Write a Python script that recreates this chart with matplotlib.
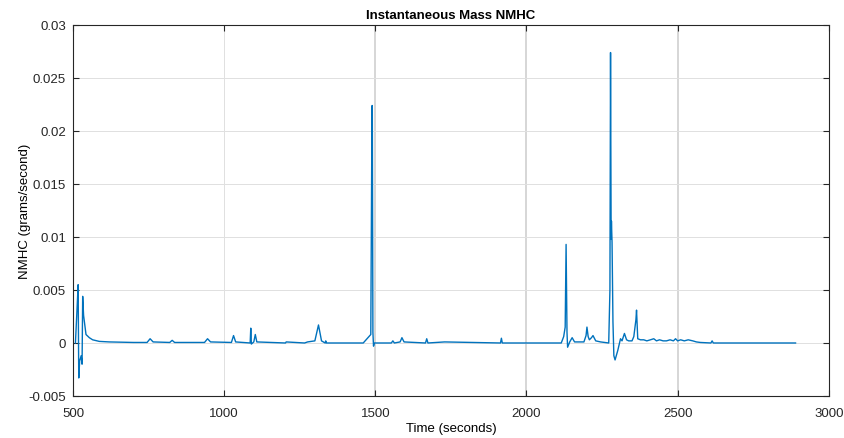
import matplotlib
matplotlib.use('Agg')
import matplotlib.pyplot as plt

# time (s) and instantaneous NMHC mass (g/s)
time_s = [508, 513, 517, 519, 522, 527, 530, 532, 535, 543, 554, 565, 587, 620, 700,
          745, 755, 765, 820, 828, 836, 935, 945, 955, 1024, 1031, 1038,
          1086, 1088, 1090, 1098, 1103, 1108, 1203, 1205, 1266, 1276,
          1300, 1312, 1322, 1334, 1336, 1338, 1460, 1485, 1489, 1490, 1492, 1494, 1497,
          1553, 1558, 1563, 1582, 1588, 1595, 1666, 1670, 1674, 1729, 1914, 1917, 1920,
          2115, 2123, 2128, 2131, 2134, 2136, 2143, 2151, 2159, 2190, 2197, 2200, 2204,
          2208, 2215, 2220, 2229, 2245, 2272, 2276, 2278, 2280, 2281, 2283, 2286, 2289,
          2293, 2302, 2311, 2316, 2324, 2331, 2338, 2349, 2355, 2362, 2364, 2368, 2377,
          2388, 2398, 2410, 2421, 2430, 2440, 2452, 2463, 2475, 2486, 2493, 2500, 2510,
          2522, 2535, 2550, 2562, 2575, 2610, 2614, 2618, 2700, 2890]
nmhc = [0, 0.003, 0.0055, -0.0033, -0.0017, -0.0012, -0.002, 0.0044, 0.0026, 0.0008,
        0.0005, 0.0003, 0.00015, 0.0001, 0.00005,
        0.00005, 0.0004, 0.0001, 0.00005, 0.00025, 0.00005, 0.00005, 0.0004, 0.0001,
        0.00005, 0.0007, 0.0001,
        0, 0.0014, -0.0001, 0.0001, 0.0008, 0.0001, 0, 0.0001, 0, 0.0001,
        0.0002, 0.0017, 0.0002, 0, 0.0002, 0, 0, 0.0008, 0.0224, 0.0224, 0.001, -0.0003, 0,
        0, 0.0002, 0, 0.0001, 0.0005, 0.0001, 0, 0.0004, 0, 0.0001, 0, 0.00045, 0,
        0, 0.0006, 0.0015, 0.0093, 0.001, -0.0004, 0.0001, 0.0005, 0.0001, 0.0001, 0.0007, 0.0015, 0.0006,
        0.0003, 0.0005, 0.0007, 0.0002, 0.0001, 0, 0.005, 0.0274, 0.0098, 0.0115, 0.0095, 0.002, -0.0012,
        -0.0016, -0.0007, 0.0004, 0.0002, 0.0009, 0.0003, 0.0002, 0.0002, 0.0006, 0.0022, 0.0031, 0.0004, 0.0003,
        0.0003, 0.0002, 0.0003, 0.0004, 0.0002, 0.0003, 0.0002, 0.0002, 0.0003, 0.0002, 0.0004, 0.0002, 0.0003,
        0.0002, 0.0003, 0.0002, 0.0001, 0.00005, 0, 0.0002, 0, 0, 0]

x_ticks = [500, 1000, 1500, 2000, 2500, 3000]
y_ticks = [-0.005, 0, 0.005, 0.01, 0.015, 0.02, 0.025, 0.03]
y_labels = ['-0.005', '0', '0.005', '0.01', '0.015', '0.02', '0.025', '0.03']

plt.rcParams['font.family'] = ['Liberation Sans', 'DejaVu Sans']
plt.rcParams['font.size'] = 9.5

fig = plt.figure(figsize=(8.44, 4.39), dpi=100)
ax = fig.add_axes([0.0865, 0.0957, 0.8955, 0.8451])
ax.plot(time_s, nmhc, color='#0072BD', lw=1.0, zorder=3)
ax.set_xlim(500, 3000)
ax.set_ylim(-0.005, 0.03)
ax.set_xticks(x_ticks)
ax.set_yticks(y_ticks)
ax.set_yticklabels(y_labels)
ax.grid(True, color='#e0e0e0', lw=0.7)
# the 1500/2000/2500 grid lines look heavier in the original
for gl in ax.get_xgridlines()[2:5]:
    gl.set_color('#d6d6d6')
    gl.set_linewidth(1.4)
ax.tick_params(direction='in', top=True, right=True, length=4, width=0.8, colors='#262626')
ax.tick_params(axis='x', pad=8)
ax.tick_params(axis='y', pad=5)
for s in ax.spines.values():
    s.set_color('#262626')
    s.set_linewidth(0.8)
ax.set_xlabel('Time (seconds)', labelpad=2)
ax.set_ylabel('NMHC (grams/second)', labelpad=-2)
ax.set_title('Instantaneous Mass NMHC', fontweight='bold', fontsize=9.5, pad=5)
fig.savefig('out.png', dpi=100)
